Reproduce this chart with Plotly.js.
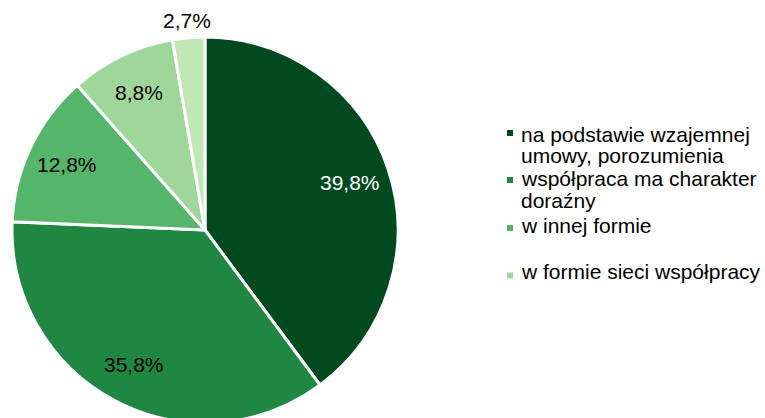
<!DOCTYPE html>
<html><head><meta charset="utf-8">
<script src="https://cdn.plot.ly/plotly-3.0.1.min.js"></script>
<style>html,body{margin:0;padding:0;overflow:hidden;background:#fff}#chart{width:765px;height:440px}</style>
</head><body><div id="chart"></div>
<script>
// data
const labels = ["na podstawie wzajemnej umowy, porozumienia", "współpraca ma charakter doraźny", "w innej formie", "w formie sieci współpracy", "pozostałe"];
const values = [39.8, 35.8, 12.8, 8.8, 2.7];
const colors = ["#01491f", "#1f8742", "#55b56b", "#9fd79b", "#c1e8b4"];
const labelColors = ["#ffffff", "#000000", "#000000", "#000000", "#000000"];
const insideLabel = [true, true, true, true, false];
const legendLines = [["na podstawie wzajemnej", "umowy, porozumienia"], ["współpraca ma charakter", "doraźny"], ["w innej formie"], ["w formie sieci współpracy"]];

const H = 440, W = 765;
const px = x => x / W, py = y => 1 - y / H;
const font = "Liberation Sans, Arial, sans-serif";

// pie geometry (pixels)
const cx = 205, cy = 230, R = 193;

const trace = {
  type: "pie",
  labels: labels,
  values: values,
  sort: false,
  direction: "clockwise",
  rotation: 0,
  marker: {colors: colors, line: {color: "#ffffff", width: 3}},
  textinfo: "none",
  hoverinfo: "label+value",
  showlegend: false,
  domain: {x: [px(cx - R), px(cx + R)], y: [py(cy + R), py(cy - R)]}
};

const annotations = [];
const shapes = [];

// data labels, positioned from the slice angles
const total = values.reduce((a, b) => a + b, 0);
let cum = 0;
values.forEach((v, i) => {
  const mid = (cum + v / 2) / total * 2 * Math.PI;
  cum += v;
  const rr = insideLabel[i] ? 0.79 * R : 1.09 * R;
  annotations.push({
    xref: "paper", yref: "paper",
    x: px(cx + rr * Math.sin(mid)), y: py(cy - rr * Math.cos(mid)),
    xanchor: "center", yanchor: "middle", showarrow: false,
    text: v.toFixed(1).replace(".", ",") + "%",
    font: {family: font, size: 21, color: labelColors[i]}
  });
});

const squareCenters = [133, 180, 228, 275.5];
const lineCenters = [[134, 156], [178, 200], [225], [271]];
legendLines.forEach((lines, i) => {
  const c = squareCenters[i];
  shapes.push({type: "rect", xref: "paper", yref: "paper", x0: px(507), x1: px(513), y0: py(c + 3), y1: py(c - 3), fillcolor: colors[i], line: {width: 0}});
  lines.forEach((t, j) => {
    annotations.push({xref: "paper", yref: "paper", x: px(519), y: py(lineCenters[i][j]), xanchor: "left", yanchor: "middle", text: t, showarrow: false, font: {family: font, size: 21, color: "#000000"}});
  });
});

Plotly.newPlot("chart", [trace], {
  width: W, height: H,
  margin: {l: 0, r: 0, t: 0, b: 0},
  paper_bgcolor: "#ffffff",
  showlegend: false,
  annotations: annotations,
  shapes: shapes
}, {displayModeBar: false, staticPlot: true});
</script></body></html>
